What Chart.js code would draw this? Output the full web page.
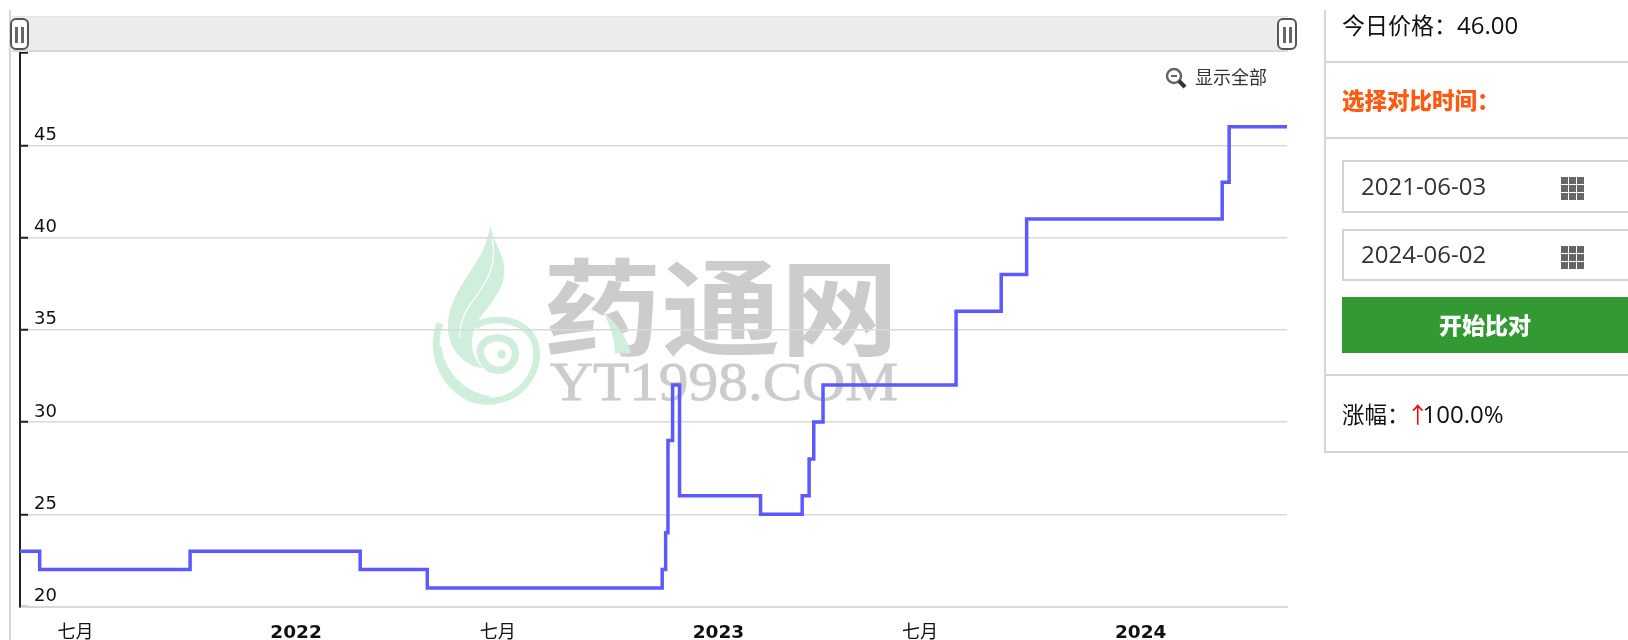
<!DOCTYPE html>
<html lang="zh">
<head>
<meta charset="utf-8">
<title>价格走势</title>
<script src="https://cdn.jsdelivr.net/npm/chart.js@4"></script>
<style>
html,body{margin:0;padding:0;background:#fff;width:1628px;height:640px;overflow:hidden}
body{font-family:"Open Sans","Noto Sans CJK SC",sans-serif;color:#222}
.abs{position:absolute;white-space:nowrap}
#wm{position:absolute;left:0;top:0;z-index:0}
#chart{position:absolute;left:0;top:0;z-index:1}
.ui{z-index:2}
.frame{background:#d6d6d6}
.handle{box-sizing:border-box;background:#fff;border:2px solid #555;border-radius:6px}
.handle i{position:absolute;top:7px;height:16px;width:3px;background:#666}
.input{box-sizing:border-box;left:1342px;width:286px;border:2px solid #d4d4d4;border-right:0;font-size:24px;color:#333;padding-left:17px}
.cal{display:block;position:absolute;left:217px;width:23px;height:23px;
 background:
  linear-gradient(#fff,#fff) 0 7px/100% 1px no-repeat,
  linear-gradient(#fff,#fff) 0 15px/100% 1px no-repeat,
  linear-gradient(#fff,#fff) 7px 0/1px 100% no-repeat,
  linear-gradient(#fff,#fff) 15px 0/1px 100% no-repeat,#666}
.t{font-size:24px}
</style>
</head>
<body>
<svg id="wm" width="1628" height="640" xmlns="http://www.w3.org/2000/svg">
  <g transform="translate(420,210) scale(.33333)" fill="#cfeedb" stroke="none">
    <path d="M210 45C220 100 255 130 253 190C250 250 190 300 165 350C150 390 150 440 190 475C140 470 95 430 85 370C75 300 120 230 160 170C190 125 205 90 210 45Z"/>
    <path d="M60 340C30 420 60 520 150 565C250 600 350 530 350 430C350 370 300 330 235 330C205 330 180 338 165 350" fill="none" stroke="#cfeedb" stroke-width="20"/>
    <path d="M55 410C65 490 125 555 210 568" fill="none" stroke="#cfeedb" stroke-width="18"/>
    <path d="M180 430C180 385 230 375 265 392C300 415 290 470 245 480C210 485 190 465 180 430" fill="none" stroke="#cfeedb" stroke-width="22"/>
    <circle cx="245" cy="433" r="13"/>
    <path d="M215 80C235 160 200 220 160 270C130 310 120 340 118 385" fill="none" stroke="#fff" stroke-width="4"/>
  </g>
  <text x="543" y="347" font-family="Noto Sans CJK SC" font-weight="700" font-size="105" textLength="356" lengthAdjust="spacingAndGlyphs" fill="#cccccc">药通网</text>
  <path transform="translate(420,210) scale(.33333)" d="M550 305C590 340 620 380 633 430L585 430C585 390 570 345 550 305Z" fill="#cfeedb"/>
  <text x="550" y="400" font-family="Liberation Serif" font-weight="400" font-size="55" textLength="348" lengthAdjust="spacingAndGlyphs" fill="#cccccc" stroke="#cccccc" stroke-width=".8">YT1998.COM</text>
</svg>
<canvas id="chart" width="1628" height="640"></canvas>

<!-- 左侧细边框与顶部滚动条 -->
<div class="abs frame ui" style="left:9px;top:10px;width:2px;height:630px"></div>
<div class="abs ui" style="left:12px;top:16px;width:1276px;height:36px;box-sizing:border-box;background:#ececec;border-top:1px solid #e4e4e4;border-bottom:2px solid #d8d8d8"></div>
<div class="abs handle ui" style="left:10px;top:18px;width:19px;height:32px"><i style="left:3px"></i><i style="left:9px"></i></div>
<div class="abs handle ui" style="left:1277px;top:18px;width:20px;height:32px"><i style="left:4px"></i><i style="left:10px"></i></div>

<!-- 显示全部 -->
<svg class="abs ui" style="left:1164px;top:66px" width="24" height="24" xmlns="http://www.w3.org/2000/svg">
  <circle cx="10" cy="10" r="7" fill="none" stroke="#666" stroke-width="2.5"/>
  <path d="M7 10H13" stroke="#666" stroke-width="2"/>
  <path d="M15 15L21 21" stroke="#333" stroke-width="4"/>
</svg>
<div class="abs ui" style="left:1195px;top:64px;font-size:18px;line-height:26px;color:#333">显示全部</div>

<!-- 右侧面板 -->
<div class="abs frame ui" style="left:1324px;top:10px;width:2px;height:443px"></div>
<div class="abs frame ui" style="left:1325px;top:61px;width:303px;height:2px"></div>
<div class="abs frame ui" style="left:1325px;top:137px;width:303px;height:2px"></div>
<div class="abs frame ui" style="left:1325px;top:374px;width:303px;height:2px"></div>
<div class="abs frame ui" style="left:1325px;top:451px;width:303px;height:2px"></div>
<div class="abs ui" style="left:1342px;top:9px;font-size:23px;line-height:32px;color:#111">今日价格：<span class="t">46.00</span></div>
<div class="abs ui" style="left:1342px;top:85px;font-size:22.5px;line-height:32px;font-weight:900;color:#ff5a0f">选择对比时间：</div>
<div class="abs input ui" style="top:160px;height:53px;line-height:47px">2021-06-03<span class="cal" style="top:15px"></span></div>
<div class="abs input ui" style="top:229px;height:52px;line-height:46px">2024-06-02<span class="cal" style="top:15px"></span></div>
<div class="abs ui" style="left:1342px;top:297px;width:286px;height:56px;background:#339933;color:#fff;font-size:23px;font-weight:900;line-height:56px;text-align:center">开始比对</div>
<div class="abs ui" style="left:1342px;top:398px;font-size:22.5px;line-height:32px;color:#111">涨幅：<span style="color:#f00;display:inline-block;width:12px;overflow:visible;text-indent:-3px">↑</span><span class="t" style="margin-left:1px">100.0%</span></div>

<script>
const dates = [
  "2021-06-03","2021-06-20","2021-10-28","2022-03-24","2022-05-21",
  "2022-12-10","2022-12-13","2022-12-15","2022-12-19","2022-12-25",
  "2023-03-05","2023-04-10","2023-04-16","2023-04-20","2023-04-28",
  "2023-08-21","2023-09-29","2023-10-21","2024-04-07","2024-04-13","2024-06-02"
];
const prices = [
  23,22,23,22,21,
  22,24,29,32,26,
  25,26,28,30,32,
  36,38,41,43,46,46
];
const xTickDates = ["2021-07-01","2022-01-01","2022-07-01","2023-01-01","2023-07-01","2024-01-01"];
const xTickLabels = ["七月","2022","七月","2023","七月","2024"];
const yMin = 20, yMax = 50, yStep = 5;

const GRID = "#d9d9d9";
const AXIS = "#222222";
const FONT = '"DejaVu Sans","Noto Sans CJK SC",sans-serif';
const noPad = s => { s.paddingTop = s.paddingBottom = s.paddingLeft = s.paddingRight = 0; };

new Chart(document.getElementById("chart"), {
  type: "line",
  data: {
    datasets: [{
      data: dates.map((d, i) => ({ x: Date.parse(d), y: prices[i] })),
      stepped: true,
      borderColor: "#5a5aff",
      borderWidth: 3.5,
      pointRadius: 0,
      fill: false,
      clip: false
    }]
  },
  options: {
    responsive: false,
    animation: false,
    events: [],
    layout: { padding: { left: 20, right: 341, top: 53, bottom: 0 } },
    plugins: { legend: { display: false }, title: { display: false }, tooltip: { enabled: false } },
    scales: {
      x: {
        type: "linear",
        min: Date.parse(dates[0]),
        max: Date.parse(dates[dates.length - 1]),
        afterBuildTicks: s => { s.ticks = xTickDates.map(d => ({ value: Date.parse(d) })); },
        afterFit: s => { s.height = 33.5; noPad(s); },
        grid: { display: false, drawTicks: false },
        border: { display: true, color: GRID, width: 2 },
        ticks: {
          autoSkip: false, maxRotation: 0, minRotation: 0,
          align: "start", labelOffset: 5, padding: 16,
          color: "#111",
          font: c => /^\d/.test(xTickLabels[c.index] || "") ?
            { family: FONT, size: 18.5, weight: "700" } : { family: FONT, size: 18, weight: "400" },
          callback: (v, i) => xTickLabels[i]
        }
      },
      y: {
        type: "linear",
        min: yMin, max: yMax,
        afterFit: s => { s.width = 0; noPad(s); },
        grid: {
          color: c => c.tick && c.tick.value === yMax ? "rgba(0,0,0,0)" : GRID,
          lineWidth: 1.5,
          tickLength: -8,
          tickColor: AXIS,
          tickWidth: 2
        },
        border: { color: AXIS, width: 2 },
        ticks: {
          stepSize: yStep,
          mirror: true,
          padding: 14,
          color: "#111",
          font: { family: FONT, size: 18, lineHeight: "20px" },
          callback: v => v === yMax ? "" : [String(v), ""]
        }
      }
    }
  }
});
</script>
</body>
</html>
